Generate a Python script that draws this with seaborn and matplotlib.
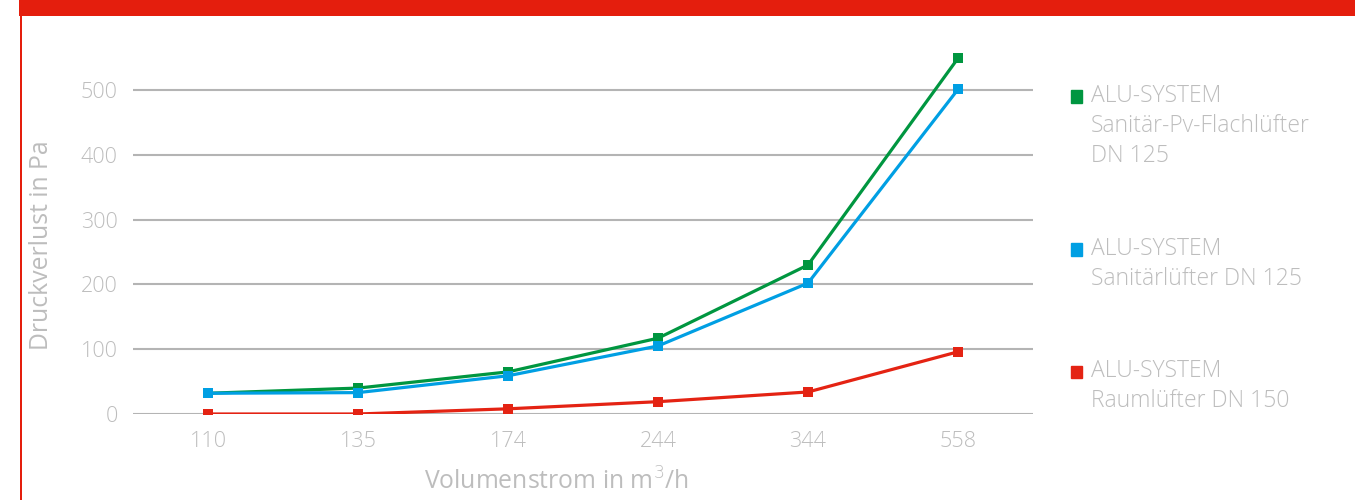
import pandas as pd
import seaborn as sns
import matplotlib.pyplot as plt
import matplotlib.patches as mpatches

# data
flow = ['110', '135', '174', '244', '344', '558']
flach_dn125 = [32, 40, 65, 117, 230, 549]
sanitaer_dn125 = [32, 33, 59, 105, 202, 501]
raum_dn150 = [0, 0, 8, 19, 34, 96]

labels = ['ALU-SYSTEM\nSanitär-Pv-Flachlüfter\nDN 125',
          'ALU-SYSTEM\nSanitärlüfter DN 125',
          'ALU-SYSTEM\nRaumlüfter DN 150']
colors = ['#009640', '#009FE3', '#E42313']
grey = '#BDBDBD'

df = pd.DataFrame({
    'flow': flow * 3,
    'dp': flach_dn125 + sanitaer_dn125 + raum_dn150,
    'series': [labels[0]] * 6 + [labels[1]] * 6 + [labels[2]] * 6,
})

sns.set_style('white')
plt.rcParams['font.family'] = ['Open Sans', 'DejaVu Sans']
plt.rcParams['font.weight'] = 'light'

W, H = 1355, 500
fig = plt.figure(figsize=(W / 100, H / 100), dpi=100)

# axes geometry in pixels
left, right, bottom = 133, 1033, 414
ymax = 570
px_per_unit = 0.648
top = bottom - ymax * px_per_unit
ax = fig.add_axes([left / W, 1 - bottom / H, (right - left) / W, (bottom - top) / H])

# red banner and left border
fig.patches.append(mpatches.Rectangle((19 / W, 1 - 16 / H), 1, 16 / H, transform=fig.transFigure,
                                      color='#E41E0D', lw=0, zorder=0))
fig.patches.append(mpatches.Rectangle((20 / W, 0), 2.2 / W, 1, transform=fig.transFigure,
                                      color='#E41E0D', lw=0, zorder=0))

hue_order = [labels[2], labels[0], labels[1]]
palette = {labels[0]: colors[0], labels[1]: colors[1], labels[2]: colors[2]}
sns.lineplot(data=df, x='flow', y='dp', hue='series', hue_order=hue_order, palette=palette,
             marker='s', markersize=6.5, markeredgewidth=0, linewidth=2.3, sort=False,
             legend=False, ax=ax)

ax.set_xlim(-0.5, 5.5)
ax.set_ylim(0, ymax)
ax.set_yticks([0, 100, 200, 300, 400, 500])
ax.yaxis.grid(True, color='#B4B4B4', linewidth=1.5)
ax.set_axisbelow(True)
for s in ax.spines.values():
    s.set_visible(False)
ax.tick_params(axis='both', length=0, colors=grey, labelsize=15.5)
ax.tick_params(axis='y', pad=11)
ax.tick_params(axis='x', pad=12)

ax.set_xlabel('Volumenstrom in m$^3$/h', color=grey, fontsize=17.8)
ax.xaxis.set_label_coords(0.471, -0.148)
ax.set_ylabel('Druckverlust in Pa', color=grey, fontsize=17.8)
ax.yaxis.set_label_coords(-0.088, 0.457)

handles = [mpatches.Patch(color=c, label=l) for c, l in zip(colors, labels)]
leg = fig.legend(handles=handles, loc='upper left', bbox_to_anchor=(1071 / W, 1 - 84 / H),
                 frameon=False, fontsize=16.5, handlelength=0.48, handleheight=0.48,
                 handletextpad=0.4, labelspacing=3.0, borderpad=0, borderaxespad=0)
line_h = 16.5 * 1.33
for t, rect in zip(leg.get_texts(), leg.get_patches()):
    t.set_color(grey)
    t.set_linespacing(1.33)
    n = t.get_text().count('\n')
    rect.set_y(rect.get_y() + n * line_h / 2)

fig.savefig('out.png', dpi=100)
